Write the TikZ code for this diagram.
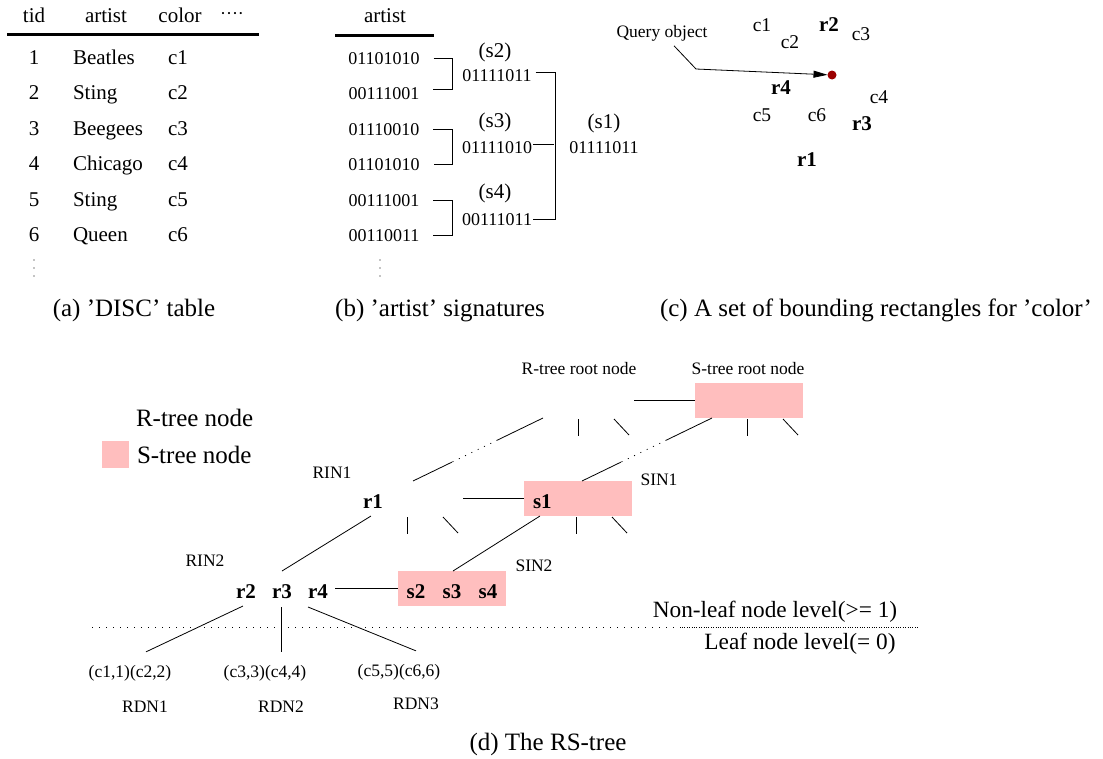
\documentclass[tikz,border=0pt]{standalone}
\usepackage{fontspec}
\setmainfont{Liberation Serif}
\usetikzlibrary{arrows.meta,calc}
\definecolor{spink}{RGB}{255,190,190}
\definecolor{dotred}{RGB}{155,0,0}
\begin{document}
\begin{tikzpicture}[x=1pt,y=-1pt,
  every node/.style={inner sep=0pt, outer sep=0pt},
  tt/.style={anchor=base, font=\fontsize{21}{21}\selectfont},
  ttl/.style={anchor=base west, font=\fontsize{21}{21}\selectfont},
  bits/.style={anchor=base, font=\fontsize{18}{18}\selectfont},
  sm/.style={anchor=base, font=\fontsize{17.5}{17.5}\selectfont},
  captxt/.style={anchor=base, font=\fontsize{25}{25}\selectfont},
  bl/.style={anchor=base, font=\fontsize{21}{21}\selectfont\bfseries},
  cl/.style={anchor=base, font=\fontsize{19.5}{19.5}\selectfont},
  lvl/.style={anchor=base, font=\fontsize{23.3}{23.3}\selectfont},
  tnode/.style={minimum width=108pt, minimum height=35pt, anchor=north west},
  snode/.style={tnode, fill=spink},
  ln/.style={line width=0.8pt},
  sparse/.style={line width=0.8pt, dash pattern=on 1pt off 6pt},
  dense/.style={line width=0.8pt, dash pattern=on 0.8pt off 1.6pt},
]
\useasboundingbox (0,0) rectangle (1103,758);

% ---------- (a) DISC table ----------
\node[tt] (ha) at (34,22) {tid};
\node[tt] (hb) at (106,22) {artist};
\node[tt] (hc) at (180,22) {color};
\node[anchor=base, font=\fontsize{18}{18}\selectfont] (hd) at (232,19) {····};
\draw[line width=3pt] (7,34) -- (259,34);
\foreach \i/\a/\c/\y in {1/Beatles/c1/64, 2/Sting/c2/99.5, 3/Beegees/c3/135, 4/Chicago/c4/170.5, 5/Sting/c5/206, 6/Queen/c6/241.5} {
  \node[tt] (t\i) at (34,\y) {\i};
  \node[ttl] (a\i) at (73,\y) {\a};
  \node[ttl] (c\i) at (168,\y) {\c};
}
\foreach \yy in {260,268,276} \fill (34,\yy) circle (0.7pt);
\node[captxt] (capa) at (134,316.5) {(a) ’DISC’ table};

% ---------- (b) artist signatures ----------
\node[tt] (hart) at (385,22) {artist};
\draw[line width=3pt] (335,35) -- (434,35);
\foreach \i/\s/\y in {1/01101010/64, 2/00111001/99.5, 3/01110010/135, 4/01101010/170.5, 5/00111001/206, 6/00110011/241.5}
  \node[bits] (b\i) at (384,\y) {\s};
\draw[ln] ([xshift=14pt]b1.east) -- ++(19,0) |- ([xshift=14pt,yshift=4pt]b2.east);
\draw[ln] ([xshift=14pt]b3.east) -- ++(19,0) |- ([xshift=14pt]b4.east);
\draw[ln] ([xshift=14pt]b5.east) -- ++(19,0) |- ([xshift=14pt]b6.east);
\node[tt] (s2l) at (495,57) {(s2)};
\node[bits] (m1) at (497,81) {01111011};
\node[tt] (s3l) at (495,127) {(s3)};
\node[bits] (m2) at (497,153) {01111010};
\node[tt] (s4l) at (495,198) {(s4)};
\node[bits] (m3) at (497,225) {00111011};
\coordinate (sv) at (555,0);
\draw[ln] ([xshift=4pt,yshift=3pt]m1.east) -| (sv |- m3.east) -- ([xshift=1pt]m3.east);
\draw[ln] ([xshift=1pt,yshift=3pt]m2.east) -- ++(21,0);
\node[tt] (s1l) at (604,128) {(s1)};
\node[bits] (s1b) at (604,153) {01111011};
\foreach \yy in {260,268,276} \fill (380,\yy) circle (0.7pt);
\node[captxt] (capb) at (440,316.5) {(b) ’artist’ signatures};

% ---------- (c) bounding rectangles ----------
\node[sm] (qo) at (662,37) {Query object};
\coordinate (qbend) at (696,69);
\node[circle, fill=dotred, minimum size=9pt] (dot) at (832,75) {};
\draw[ln, -{Triangle[length=14pt,width=7pt]}] ($(qo.south)+(12,5)$) -- (qbend) -- (dot);
\node[cl] (cc1) at (762,31) {c1};
\node[bl] (cr2) at (829,31) {r2};
\node[cl] (cc3) at (861,40) {c3};
\node[cl] (cc2) at (790,48) {c2};
\node[bl] (cr4) at (781,94) {r4};
\node[cl] (cc4) at (879,103) {c4};
\node[cl] (cc5) at (762,121) {c5};
\node[cl] (cc6) at (817,121) {c6};
\node[bl] (cr3) at (862,130) {r3};
\node[bl] (cr1) at (807,166) {r1};
\node[captxt, anchor=base west] (capc) at (660,316.5) {(c) A set of bounding rectangles for ’color’};

% ---------- (d) RS-tree ----------
\node[captxt, anchor=base west] (lr) at (136,426) {R-tree node};
\node[fill=spink, minimum size=27pt, anchor=north west] (lsq) at (102,441) {};
\node[captxt, anchor=base west] (ls) at (137,463) {S-tree node};

% root level
\node[tnode] (Rroot) at (526,383) {};
\node[snode] (Sroot) at (695,383) {};
\node[sm] (lrr) at (579,374) {R-tree root node};
\node[sm] (lsr) at (748,374) {S-tree root node};
\draw[ln] (Rroot) -- (Sroot);

% level 1
\node[tnode] (R1) at (355,481) {};
\node[snode] (S1) at (524,481) {};
\node[bl, anchor=base west] (r1t) at (363,508) {r1};
\node[bl, anchor=base west] (s1t) at (533,508) {s1};
\draw[ln] (R1) -- (S1);
\node[sm] (rin1) at (332,478) {RIN1};
\node[sm] (sin1) at (659,485) {SIN1};

% root -> level 1 (partly dotted)
\foreach \P/\C in {Rroot/R1, Sroot/S1} {
  \coordinate (p0) at ($(\P.south west)+(17,0)$);
  \coordinate (p1) at ($(\C.north west)+(58,0)$);
  \draw[ln] (p0) -- ($(p0)!0.35!(p1)$);
  \draw[sparse] ($(p0)!0.35!(p1)$) -- ($(p0)!0.7!(p1)$);
  \draw[ln] ($(p0)!0.7!(p1)$) -- (p1);
}
% stubs
\foreach \P in {Rroot, Sroot, R1, S1} {
  \draw[ln] ($(\P.south west)+(52.5,1)$) -- ($(\P.south west)+(52.5,18)$);
  \draw[ln] ($(\P.south west)+(88,1)$) -- ($(\P.south west)+(103,17)$);
}

% level 2
\node[tnode] (R2) at (227,571) {};
\node[snode] (S2) at (398,571) {};
\node[bl] (r2t) at (246,598) {r2};
\node[bl] (r3t) at (282,598) {r3};
\node[bl] (r4t) at (318,598) {r4};
\node[bl] (s2t) at (416,598) {s2};
\node[bl] (s3t) at (452,598) {s3};
\node[bl] (s4t) at (488,598) {s4};
\draw[ln] (R2) -- (S2);
\node[sm] (rin2) at (205,566) {RIN2};
\node[sm] (sin2) at (534,571) {SIN2};
\draw[ln] ($(R1.south west)+(16,0)$) -- ($(R2.north west)+(55,0)$);
\draw[ln] ($(S1.south west)+(16,0)$) -- ($(S2.north west)+(55,0)$);

% level separator
\draw[sparse] (92,627) -- (682,627);
\draw[dense] (682,627) -- (918,627);
\node[lvl] (nl) at (775,617) {Non-leaf node level(>= 1)};
\node[lvl] (lf) at (800,649) {Leaf node level(= 0)};

% leaves
\node[sm] (lf1) at (130,677) {(c1,1)(c2,2)};
\node[sm] (lf2) at (265,677) {(c3,3)(c4,4)};
\node[sm] (lf3) at (399,676) {(c5,5)(c6,6)};
\node[sm] (rdn1) at (145,712) {RDN1};
\node[sm] (rdn2) at (281,712) {RDN2};
\node[sm] (rdn3) at (416,709) {RDN3};
\draw[ln] ($(R2.south west)+(16,0)$) -- ($(lf1.north)+(16,-13)$);
\draw[ln] ($(R2.south west)+(54,1)$) -- ($(lf2.north)+(16,-13)$);
\draw[ln] ($(R2.south west)+(81,1)$) -- ($(lf3.north)+(17,-13)$);

\node[captxt] (capd) at (548,750) {(d) The RS-tree};
\end{tikzpicture}
\end{document}
